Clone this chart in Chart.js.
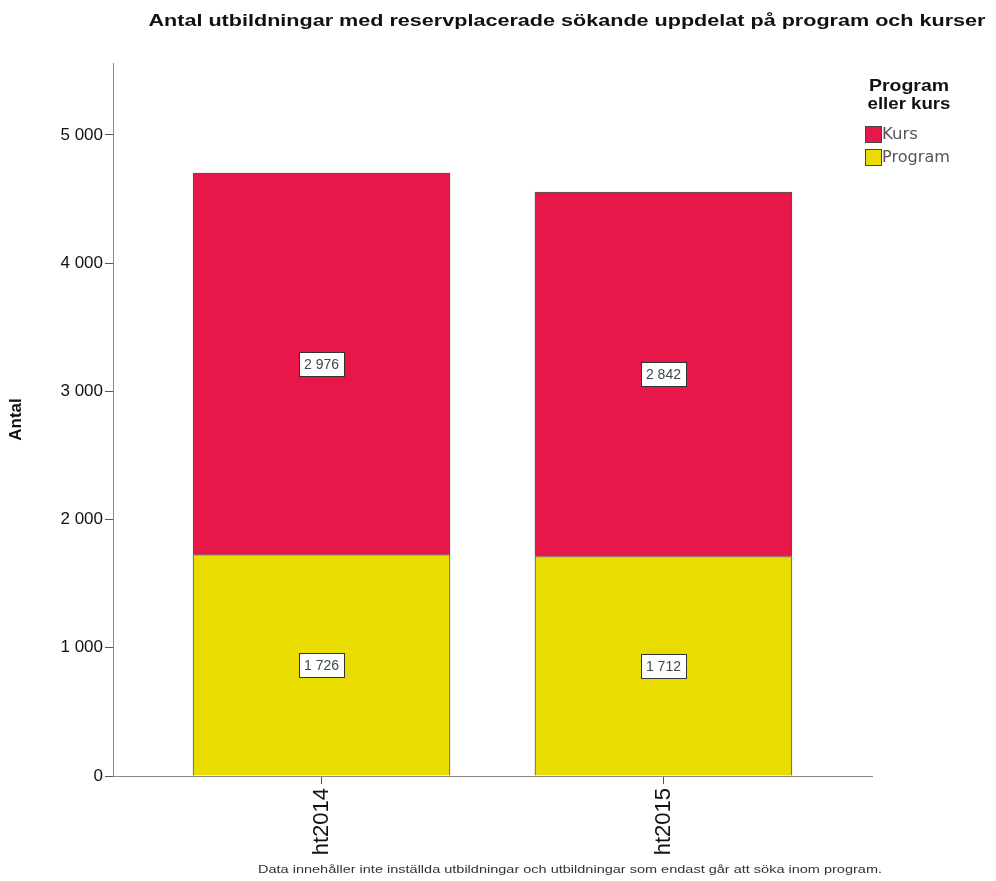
<!DOCTYPE html>
<html>
<head>
<meta charset="utf-8">
<script src="https://cdn.jsdelivr.net/npm/chart.js@4/dist/chart.umd.min.js"></script>
<style>
  html, body { margin: 0; padding: 0; background: #fff; }
  #wrap { width: 996px; height: 881px; position: relative; }
</style>
</head>
<body>
<div id="wrap"><canvas id="myChart" width="996" height="881"></canvas></div>
<script>
const categories = ['ht2014', 'ht2015'];
const kurs = [2976, 2842];
const program = [1726, 1712];
const yTicks = [0, 1000, 2000, 3000, 4000, 5000];

const titleText = 'Antal utbildningar med reservplacerade sökande uppdelat på program och kurser';
const footText = 'Data innehåller inte inställda utbildningar och utbildningar som endast går att söka inom program.';
const legendTitle = ['Program', 'eller kurs'];

const SANS = '"Liberation Sans", Arial, sans-serif';
const WIDE = '"DejaVu Sans", sans-serif';

function fmt(v) {
  return String(v).replace(/\B(?=(\d{3})+(?!\d))/g, ' ');
}

// text squeezed or stretched to the width it has in the picture
function fitText(ctx, text, cx, cy, weight, size, family, width) {
  ctx.font = weight + ' ' + size + 'px ' + family;
  const w = ctx.measureText(text).width;
  ctx.save();
  ctx.translate(cx, cy);
  ctx.scale(width / w, 1);
  ctx.fillText(text, 0, 0);
  ctx.restore();
}

const extras = {
  id: 'extras',
  afterDatasetsDraw(chart) {
    const ctx = chart.ctx;
    ctx.save();
    ctx.textAlign = 'center';
    ctx.textBaseline = 'middle';
    ctx.font = '14px ' + SANS;
    chart.data.datasets.forEach((ds, di) => {
      const meta = chart.getDatasetMeta(di);
      meta.data.forEach((bar, i) => {
        const p = bar.getProps(['x', 'y', 'base'], true);
        const cy = Math.round((p.y + p.base) / 2);
        const label = fmt(ds.data[i].y);
        const w = Math.round(ctx.measureText(label).width + 10);
        const h = 24;
        const x0 = Math.round(p.x - w / 2);
        ctx.fillStyle = '#fff';
        ctx.fillRect(x0, cy - h / 2, w, h);
        ctx.strokeStyle = '#333';
        ctx.lineWidth = 1;
        ctx.strokeRect(x0 + 0.5, cy - h / 2 + 0.5, w, h);
        ctx.fillStyle = '#3b4a4a';
        ctx.fillText(label, p.x, cy + 1);
      });
    });
    ctx.restore();
  },
  afterDraw(chart) {
    const ctx = chart.ctx;
    ctx.save();
    ctx.textBaseline = 'middle';
    ctx.textAlign = 'center';
    ctx.fillStyle = '#111';
    fitText(ctx, titleText, 567, 22, 'bold', 16, SANS, 837);
    ctx.fillStyle = '#333';
    fitText(ctx, footText, 570, 870, 'normal', 11, SANS, 624);

    // legend
    ctx.fillStyle = '#111';
    fitText(ctx, legendTitle[0], 909, 86, 'bold', 17, SANS, 80);
    fitText(ctx, legendTitle[1], 909, 104, 'bold', 17, SANS, 83);
    const order = [1, 0];
    order.forEach((di, k) => {
      const ds = chart.data.datasets[di];
      const y = 126 + k * 23;
      ctx.fillStyle = ds.backgroundColor;
      ctx.fillRect(865, y, 16, 16);
      ctx.strokeStyle = '#444';
      ctx.lineWidth = 1;
      ctx.strokeRect(865.5, y + 0.5, 16, 16);
      ctx.fillStyle = '#555';
      ctx.textAlign = 'left';
      ctx.font = '15px ' + WIDE;
      const txt = ds.label;
      const w = ctx.measureText(txt).width;
      const target = di === 1 ? 36 : 68;
      ctx.save();
      ctx.translate(882, y + 9);
      ctx.scale(target / w, 1);
      ctx.fillText(txt, 0, 0);
      ctx.restore();
    });
    ctx.restore();
  }
};

const config = {
  type: 'bar',
  data: {
    datasets: [
      {
        label: 'Program',
        data: program.map((v, i) => ({ x: i, y: v })),
        backgroundColor: '#E8DC00',
        borderColor: '#555',
        borderWidth: 1,
        barThickness: 257,
        grouped: false
      },
      {
        label: 'Kurs',
        data: kurs.map((v, i) => ({ x: i, y: v })),
        backgroundColor: '#E8174A',
        borderColor: '#555',
        borderWidth: 1,
        barThickness: 257,
        grouped: false
      }
    ]
  },
  options: {
    responsive: false,
    animation: false,
    layout: { padding: { top: 63, right: 124, bottom: 5, left: 0 } },
    plugins: {
      legend: { display: false },
      tooltip: { enabled: false },
      title: { display: false }
    },
    scales: {
      x: {
        type: 'linear',
        offset: false,
        min: -0.61,
        max: 1.61,
        afterBuildTicks: (scale) => {
          scale.ticks = categories.map((c, i) => ({ value: i }));
        },
        afterFit: (scale) => { scale.height = 100; },
        grid: { offset: false, drawOnChartArea: false, drawTicks: true, tickLength: 8, color: '#555' },
        border: { display: true, color: '#888', width: 1 },
        ticks: {
          minRotation: 90,
          maxRotation: 90,
          padding: 4,
          color: '#111',
          font: { size: 22, family: SANS },
          callback: (v) => categories[v]
        }
      },
      y: {
        stacked: true,
        min: 0,
        max: 5560,
        afterBuildTicks: (scale) => {
          scale.ticks = yTicks.map((v) => ({ value: v }));
        },
        afterFit: (scale) => { scale.width = 113; },
        grid: { drawOnChartArea: false, drawTicks: true, tickLength: 8, color: '#555' },
        border: { display: true, color: '#888', width: 1 },
        ticks: {
          padding: 2,
          color: '#111',
          font: { size: 17, family: SANS },
          callback: (v) => fmt(v)
        },
        title: {
          display: true,
          text: 'Antal',
          color: '#111',
          padding: { top: 6, bottom: 0 },
          font: { size: 17, weight: 'bold', family: SANS }
        }
      }
    }
  },
  plugins: [extras]
};

const wrapper = document.querySelector('#myChart');
const myChart = new Chart(wrapper, config);
</script>
</body>
</html>
